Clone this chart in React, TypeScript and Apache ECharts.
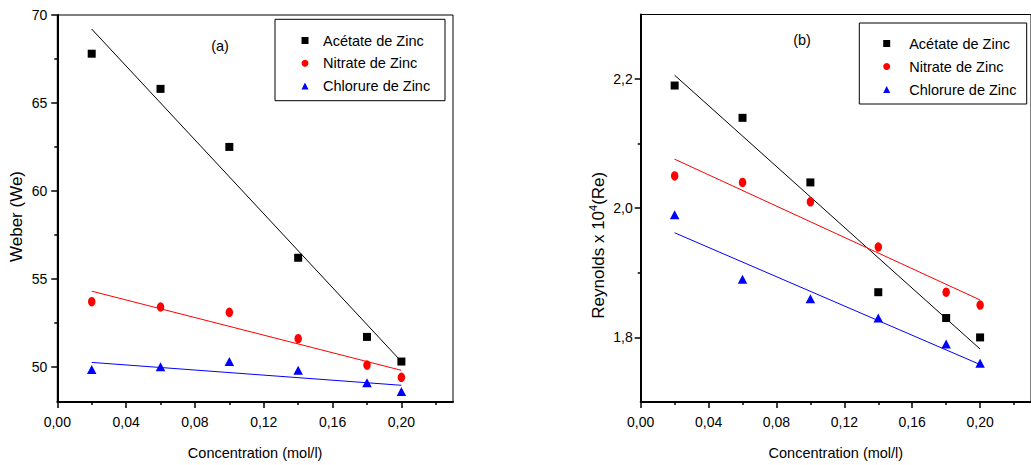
import React, { useEffect, useRef } from "react";
import * as echarts from "echarts";

const concentration = [0.02, 0.06, 0.1, 0.14, 0.18, 0.2];
const weberAcetate = [67.8, 65.8, 62.5, 56.2, 51.7, 50.3];
const weberNitrate = [53.7, 53.4, 53.1, 51.6, 50.1, 49.4];
const weberChlorure = [49.85, 50.0, 50.3, 49.8, 49.1, 48.6];
const reAcetate = [2.19, 2.14, 2.04, 1.87, 1.83, 1.8];
const reNitrate = [2.05, 2.04, 2.01, 1.94, 1.87, 1.85];
const reChlorure = [1.99, 1.89, 1.86, 1.83, 1.79, 1.76];

const fitX = [0.02, 0.2];
const weberFitAcetate = [69.2, 50.3];
const weberFitNitrate = [54.3, 49.8];
const weberFitChlorure = [50.25, 48.95];
const reFitAcetate = [2.206, 1.782];
const reFitNitrate = [2.076, 1.858];
const reFitChlorure = [1.962, 1.758];

const xTicks = [0, 0.04, 0.08, 0.12, 0.16, 0.2];
const xMinorTicks = [0.02, 0.06, 0.1, 0.14, 0.18, 0.22];
const weberTicks = [50, 55, 60, 65, 70];
const weberMinorTicks = [52.5, 57.5, 62.5, 67.5];
const reTicks = [1.8, 2.0, 2.2];
const reMinorTicks = [1.9, 2.1];

const seriesNames = ["Acétate de Zinc", "Nitrate de Zinc", "Chlorure de Zinc"];
const seriesColors = ["#000000", "#ff0000", "#0000ff"];
const xTitle = "Concentration (mol/l)";
const weberTitle = "Weber (We)";
const reTitle = "Reynolds x 10{s|4}(Re)";
const panelLabels = ["(a)", "(b)"];

const FONT = "'Liberation Sans', Arial, sans-serif";

const pairs = (xs: number[], ys: number[]) => xs.map((x, i) => [x, ys[i]]);

function xAxisDef(gridIndex: number, main: boolean) {
  return {
    type: "value",
    gridIndex,
    min: 0,
    max: 0.23,
    position: "bottom",
    axisLine: { show: main, onZero: false, lineStyle: { color: "#000", width: 2 } },
    axisTick: {
      show: true,
      inside: false,
      length: main ? 6 : 3,
      customValues: main ? xTicks : xMinorTicks,
      lineStyle: { color: "#000", width: 1.5 },
    },
    axisLabel: main
      ? {
          show: true,
          customValues: xTicks,
          formatter: (v: number) => v.toFixed(2).replace(".", ","),
          margin: 13,
          fontSize: 14,
          color: "#000",
          fontFamily: FONT,
        }
      : { show: false },
    splitLine: { show: false },
    name: main ? xTitle : "",
    nameLocation: "middle",
    nameGap: 43,
    nameTextStyle: { fontSize: 14.5, color: "#000", fontFamily: FONT },
  };
}

function yAxisDef(
  gridIndex: number,
  main: boolean,
  min: number,
  max: number,
  ticks: number[],
  minor: number[],
  fmt: (v: number) => string,
  margin: number,
  name: string,
  nameGap: number,
  namePad: number[]
) {
  return {
    type: "value",
    gridIndex,
    min,
    max,
    position: "left",
    offset: 0,
    axisLine: { show: main, onZero: false, lineStyle: { color: "#000", width: 2 } },
    axisTick: {
      show: true,
      inside: false,
      length: main ? 6 : 3,
      customValues: main ? ticks : minor,
      lineStyle: { color: "#000", width: 1.5 },
    },
    axisLabel: main
      ? {
          show: true,
          customValues: ticks,
          formatter: fmt,
          margin,
          fontSize: 14,
          color: "#000",
          fontFamily: FONT,
        }
      : { show: false },
    splitLine: { show: false },
    name: main ? name : "",
    nameLocation: "middle",
    nameRotate: 90,
    nameGap,
    nameTextStyle: {
      fontSize: 17,
      color: "#000",
      fontFamily: FONT,
      lineHeight: 22,
      padding: namePad,
      rich: { s: { fontSize: 11, fontFamily: FONT, verticalAlign: "top", lineHeight: 22 } },
    },
  };
}

const symbols: any[] = [
  { symbol: "rect", size: [8, 8] },
  { symbol: "circle", size: [7.5, 9.5] },
  { symbol: "triangle", size: [9.5, 9] },
];

function scatterSeries(idx: number, axis: number, ys: number[]) {
  return {
    type: "scatter",
    name: seriesNames[idx],
    xAxisIndex: axis,
    yAxisIndex: axis,
    data: pairs(concentration, ys),
    symbol: symbols[idx].symbol,
    symbolSize: symbols[idx].size,
    itemStyle: { color: seriesColors[idx], opacity: 1 },
    z: 5,
  };
}

function fitSeries(idx: number, axis: number, ys: number[]) {
  return {
    type: "line",
    name: seriesNames[idx] + " fit",
    xAxisIndex: axis,
    yAxisIndex: axis,
    data: pairs(fitX, ys),
    symbol: "none",
    silent: true,
    lineStyle: { color: seriesColors[idx], width: 1 },
    itemStyle: { color: seriesColors[idx] },
    z: 3,
  };
}

const legendData = [
  { name: seriesNames[0], icon: "rect" },
  { name: seriesNames[1], icon: "circle" },
  { name: seriesNames[2], icon: "triangle" },
];

function legendDef(left: number, top: number, textPad: number, itemGap: number) {
  return {
    orient: "vertical",
    left,
    top,
    padding: 0,
    itemWidth: 7,
    itemHeight: 7,
    itemGap,
    selectedMode: false,
    data: legendData,
    itemStyle: { opacity: 1 },
    textStyle: {
      fontSize: 14.5,
      lineHeight: 17,
      color: "#000",
      fontFamily: FONT,
      padding: [0, 0, 0, textPad],
    },
  };
}

export default function App() {
  const ref = useRef<HTMLDivElement>(null);
  useEffect(() => {
    if (!ref.current) return;
    const chart = echarts.init(ref.current, undefined, { renderer: "svg" });
    const fmtY1 = (v: number) => String(Math.round(v));
    const fmtY2 = (v: number) => v.toFixed(1).replace(".", ",");
    chart.setOption({
      animation: false,
      backgroundColor: "#fff",
      grid: [
        { left: 57.3, top: 15, width: 395.7, height: 387, show: true, borderColor: "#000", borderWidth: 1, backgroundColor: "transparent" },
        { left: 640.7, top: 14.5, width: 399, height: 387.5, show: true, borderColor: "#000", borderWidth: 1, backgroundColor: "transparent" },
      ],
      xAxis: [xAxisDef(0, true), xAxisDef(0, false), xAxisDef(1, true), xAxisDef(1, false)],
      yAxis: [
        yAxisDef(0, true, 48, 70, weberTicks, weberMinorTicks, fmtY1, 10, weberTitle, 27, [0, 16, 0, 0]),
        yAxisDef(0, false, 48, 70, weberTicks, weberMinorTicks, fmtY1, 10, "", 27, [0, 0, 0, 0]),
        yAxisDef(1, true, 1.7, 2.3, reTicks, reMinorTicks, fmtY2, 8, reTitle, 31, [0, 74, 0, 0]),
        yAxisDef(1, false, 1.7, 2.3, reTicks, reMinorTicks, fmtY2, 8, "", 31, [0, 0, 0, 0]),
      ],
      legend: [legendDef(301.5, 32, 9.5, 5.75), legendDef(883.2, 35, 14, 6)],
      graphic: [
        { type: "rect", shape: { x: 275, y: 19.3, width: 170, height: 81.4 }, style: { fill: "transparent", stroke: "#000", lineWidth: 1 }, z: 10 },
        { type: "rect", shape: { x: 859.3, y: 23, width: 167.4, height: 81 }, style: { fill: "transparent", stroke: "#000", lineWidth: 1 }, z: 10 },
        { type: "text", x: 220, y: 46, style: { text: panelLabels[0], fontSize: 14.5, fontFamily: FONT, fill: "#000", align: "center", verticalAlign: "middle" }, z: 10 },
        { type: "text", x: 802, y: 40, style: { text: panelLabels[1], fontSize: 14.5, fontFamily: FONT, fill: "#000", align: "center", verticalAlign: "middle" }, z: 10 },
      ],
      series: [
        fitSeries(0, 0, weberFitAcetate),
        fitSeries(1, 0, weberFitNitrate),
        fitSeries(2, 0, weberFitChlorure),
        scatterSeries(0, 0, weberAcetate),
        scatterSeries(1, 0, weberNitrate),
        scatterSeries(2, 0, weberChlorure),
        fitSeries(0, 2, reFitAcetate),
        fitSeries(1, 2, reFitNitrate),
        fitSeries(2, 2, reFitChlorure),
        scatterSeries(0, 2, reAcetate),
        scatterSeries(1, 2, reNitrate),
        scatterSeries(2, 2, reChlorure),
      ],
    });
    return () => chart.dispose();
  }, []);
  return (
    <div
      ref={ref}
      style={{ position: "fixed", left: 0, top: 0, width: 1031, height: 465, background: "#fff" }}
    />
  );
}
